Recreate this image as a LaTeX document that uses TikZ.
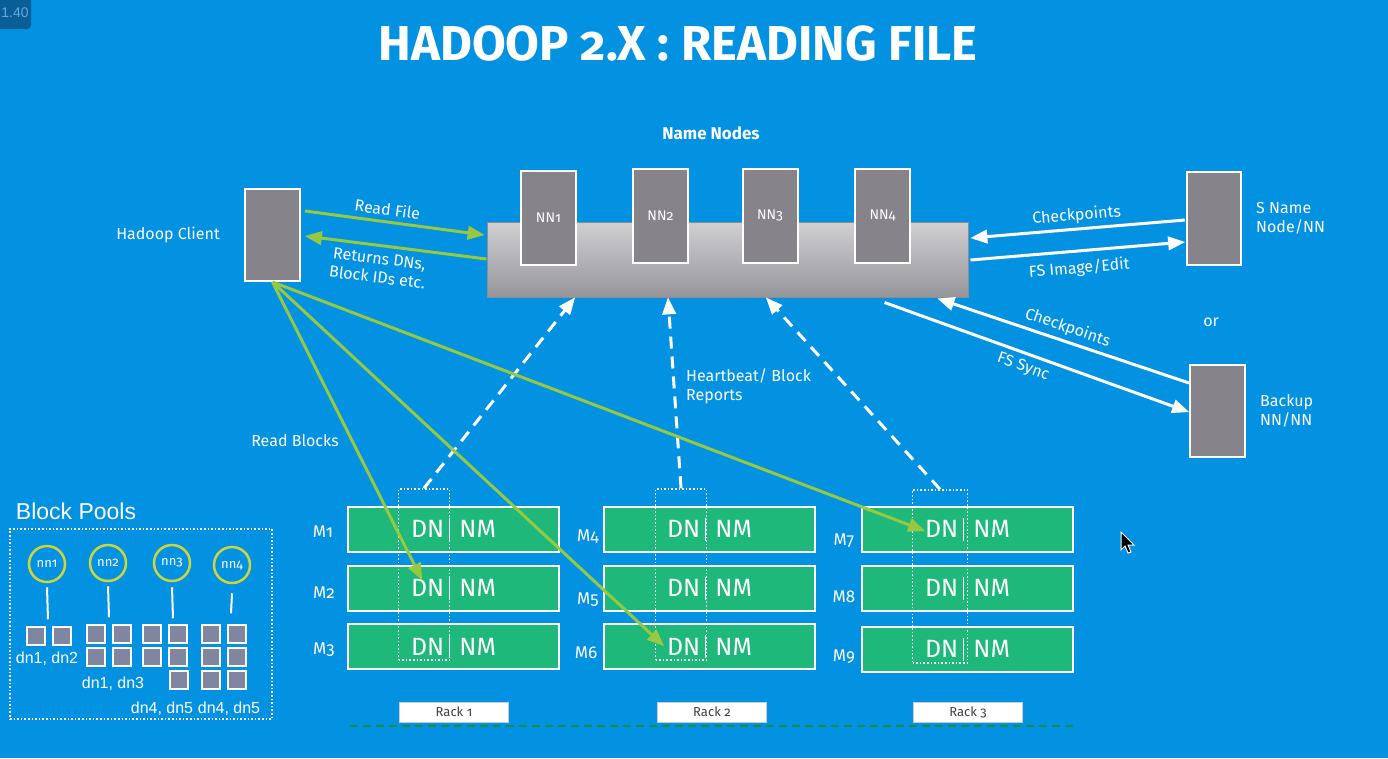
\documentclass[tikz,border=0pt]{standalone}
\usepackage{fontspec}
\setmainfont{Fira Sans}[Numbers=OldStyle]
\newfontfamily\arialfont{Liberation Sans}
\usetikzlibrary{arrows,positioning}

\definecolor{bgblue}{RGB}{3,146,226}
\definecolor{boxgray}{RGB}{134,132,138}
\definecolor{bartop}{RGB}{208,208,211}
\definecolor{barbottom}{RGB}{150,149,154}
\definecolor{barline}{RGB}{140,140,146}
\definecolor{readgreen}{RGB}{150,200,65}
\definecolor{machgreen}{RGB}{30,184,122}
\definecolor{rackline}{RGB}{22,140,72}
\definecolor{poolyellow}{RGB}{205,212,60}
\definecolor{poolgray}{RGB}{128,134,160}
\definecolor{badgeblue}{RGB}{10,94,150}
\definecolor{badgetext}{RGB}{100,170,222}

\tikzset{
    lbl/.style={text=white, inner sep=2pt, font=\fontsize{16}{19}\selectfont},
    graybox/.style={draw=white, line width=2pt, fill=boxgray, inner sep=0pt},
    nnbox/.style={graybox, minimum width=55pt, minimum height=94pt, text=white, font=\fontsize{14}{16}\selectfont},
    nnbar/.style={draw=barline, line width=1pt, top color=bartop, bottom color=barbottom, minimum width=481pt, minimum height=75pt},
    machine/.style={draw=white, line width=2pt, fill=machgreen, minimum width=211pt, minimum height=45pt, inner sep=0pt, text=white, font=\fontsize{25}{30}\selectfont},
    mlbl/.style={text=white, font=\fontsize{17}{20}\selectfont},
    dotbox/.style={draw=white, dotted, line width=1.6pt, minimum width=51pt, minimum height=171pt},
    racklbl/.style={fill=white, draw=white!80!black, minimum width=109pt, minimum height=20pt, inner sep=0pt, text=black!75, font=\fontsize{13}{15}\selectfont},
    greenarrow/.style={draw=readgreen, line width=3pt},
    whitearrow/.style={draw=white, line width=3pt},
    dasharrow/.style={draw=white, line width=3pt, dash pattern=on 12pt off 8pt},
    pool/.style={circle, draw=poolyellow, line width=2.5pt, minimum size=36pt, inner sep=0pt, text=white, font=\fontsize{13}{15}\selectfont},
    poolsq/.style={draw=white, line width=2pt, fill=poolgray, minimum size=18pt, inner sep=0pt},
    poollbl/.style={text=white, inner sep=1pt, font=\arialfont\fontsize{16}{19}\selectfont}
}

\newcommand{\dnnm}{DN\hspace{5pt}\rule[-3pt]{1.3pt}{23pt}\hspace{9pt}NM}

\begin{document}
\begin{tikzpicture}[x=1pt,y=-1pt,>=triangle 45]
            %sfondo
            \fill[bgblue] (0,0) rectangle (1388,758);
            \useasboundingbox (0,0) rectangle (1388,758);
            \fill[badgeblue, rounded corners=4pt] (-6,-6) rectangle (31,29);
            \node[text=badgetext, font=\arialfont\fontsize{14}{16}\selectfont] (badge) at (15,13) {1.40};
            %titolo
            \node[text=white, font=\bfseries\fontsize{49}{56}\selectfont] (title) at (678,44) {HADOOP 2.X : READING FILE};
            %client
            \node[graybox, minimum width=55pt, minimum height=92pt] (client) at (272.5,235) {};
            \node[lbl, left=22pt of client] (clientlbl) {Hadoop Client};
            %name nodes
            \node[nnbar] (nnbar) at (727.5,259.5) {};
            \node[nnbox] (nn1) at (548.5,218) {NN1};
            \node[nnbox] (nn2) at (660.5,215.5) {NN2};
            \node[nnbox] (nn3) at (770,215.5) {NN3};
            \node[nnbox] (nn4) at (882.5,215.5) {NN4};
            \node[lbl, font=\bfseries\fontsize{17}{20}\selectfont] (nnlbl) at (711,133) {Name Nodes};
            %secondary e backup
            \node[graybox, minimum width=54pt, minimum height=93pt] (snn) at (1214,218.5) {};
            \node[lbl, right=12pt of snn, align=left] (snnlbl) {S Name\\Node/NN};
            \node[graybox, minimum width=55pt, minimum height=92pt] (bnn) at (1217.5,411) {};
            \node[lbl, right=12pt of bnn, align=left] (bnnlbl) {Backup\\NN/NN};
            \node[lbl] (orlbl) at (1211,322) {or};
            %read file
            \draw[greenarrow,->] ([xshift=4pt,yshift=24pt]client.east) -- ([xshift=-2pt,yshift=24.5pt]nnbar.west) node[pos=0.45, above=3pt, sloped, lbl] {Read File};
            \draw[greenarrow,->] ([yshift=0.5pt]nnbar.west) -- ([xshift=4pt,yshift=-1pt]client.east) node[pos=0.58, below=4pt, sloped, lbl, align=center] {Returns DNs,\\Block IDs etc.};
            %checkpoints
            \draw[whitearrow,->] ([xshift=-1pt,yshift=-1.5pt]snn.west) -- ([xshift=2pt,yshift=21.5pt]nnbar.east) node[midway, above=2pt, sloped, lbl] {Checkpoints};
            \draw[whitearrow,->] ([xshift=2pt,yshift=-0.5pt]nnbar.east) -- ([xshift=-1pt,yshift=-23.5pt]snn.west) node[midway, below=6pt, sloped, lbl] {FS Image/Edit};
            \draw[whitearrow,->] ([yshift=28pt]bnn.west) -- ([xshift=-31pt,yshift=-1pt]nnbar.south east) node[pos=0.5, above=2pt, sloped, lbl] {Checkpoints};
            \draw[whitearrow,->] ([xshift=-84pt,yshift=-5pt]nnbar.south east) -- ([yshift=-1pt]bnn.west) node[pos=0.47, below=3pt, sloped, lbl] {FS Sync};
            %rack 1
            \node[machine] (m1) at (453.5,529) {\dnnm};
            \node[machine] (m2) at (453.5,588) {\dnnm};
            \node[machine] (m3) at (453.5,646.5) {\dnnm};
            %rack 2
            \node[machine] (m4) at (709.5,529) {\dnnm};
            \node[machine] (m5) at (709.5,588) {\dnnm};
            \node[machine] (m6) at (709.5,646.5) {\dnnm};
            %rack 3
            \node[machine] (m7) at (967.5,529) {\dnnm};
            \node[machine] (m8) at (967.5,588) {\dnnm};
            \node[machine] (m9) at (967.5,649) {\dnnm};
            %etichette
            \node[mlbl] (m1lbl) at (323,532) {M1};
            \node[mlbl] (m2lbl) at (324,593) {M2};
            \node[mlbl] (m3lbl) at (324,650) {M3};
            \node[mlbl] (m4lbl) at (588,537) {M4};
            \node[mlbl] (m5lbl) at (588,600) {M5};
            \node[mlbl] (m6lbl) at (586,653) {M6};
            \node[mlbl] (m7lbl) at (844,541) {M7};
            \node[mlbl] (m8lbl) at (844,597) {M8};
            \node[mlbl] (m9lbl) at (844,657) {M9};
            %datanode
            \node[dotbox] (hb1) at (424,574.5) {};
            \node[dotbox] (hb2) at (681,574.5) {};
            \node[dotbox, minimum width=55pt, minimum height=173pt] (hb3) at (940,576.5) {};
            %heartbeat
            \draw[dasharrow,->] (hb1.north) -- ([xshift=-152.5pt]nnbar.south);
            \draw[dasharrow,->] (hb2.north) -- ([xshift=-59.5pt]nnbar.south);
            \draw[dasharrow,->] (hb3.north) -- ([xshift=38.5pt]nnbar.south);
            \node[lbl, align=left, right] (hblbl) at (684,386) {Heartbeat/ Block\\Reports};
            %read blocks
            \draw[greenarrow,->] (client.south) -- ([xshift=-31.5pt,yshift=8pt]m2.center);
            \draw[greenarrow,->] (client.south) -- ([xshift=-45.5pt,yshift=0.5pt]m6.center);
            \draw[greenarrow,->] (client.south) -- ([xshift=-42.5pt,yshift=-2pt]m7.center);
            \node[lbl] (rblbl) at (295,441) {Read Blocks};
            %rack
            \node[racklbl] (rack1) at (454,712) {Rack 1};
            \node[racklbl] (rack2) at (712,712) {Rack 2};
            \node[racklbl] (rack3) at (968,712) {Rack 3};
            \coordinate (lineL) at (350,726);
            \coordinate (lineR) at (1073,726);
            \draw[rackline, line width=2.5pt, dash pattern=on 8pt off 5pt] (lineL) -- (lineR);
            %block pools
            \node[text=white, font=\arialfont\fontsize{23}{27}\selectfont] (bplbl) at (76,511) {Block Pools};
            \node[draw=white, dotted, line width=1.6pt, minimum width=262pt, minimum height=190pt] (bpbox) at (141,624) {};
            \node[pool] (pool1) at (47,564) {nn1};
            \node[pool] (pool2) at (108,563) {nn2};
            \node[pool] (pool3) at (172,563) {nn3};
            \node[pool] (pool4) at (232,565) {nn4};
            \draw[white, line width=2pt] ([yshift=-4pt]pool1.south) -- ++(1,32);
            \draw[white, line width=2pt] ([yshift=-4pt]pool2.south) -- ++(1,31);
            \draw[white, line width=2pt] ([yshift=-5pt]pool3.south) -- ++(1,31);
            \draw[white, line width=2pt] ([yshift=-9pt]pool4.south) -- ++(-1,20);
            \node[poolsq] (sq1a) at (36,636) {};
            \node[poolsq] (sq1b) at (61.5,636) {};
            \node[poolsq] (sq2a) at (96,633.5) {};
            \node[poolsq] (sq2b) at (122,633.5) {};
            \node[poolsq] (sq2c) at (96,656.5) {};
            \node[poolsq] (sq2d) at (122,656.5) {};
            \node[poolsq] (sq3a) at (151.5,633.5) {};
            \node[poolsq] (sq3b) at (178,633.5) {};
            \node[poolsq] (sq3c) at (151.5,656.5) {};
            \node[poolsq] (sq3d) at (178,656.5) {};
            \node[poolsq] (sq3e) at (178.5,679.5) {};
            \node[poolsq] (sq4a) at (210.5,633.5) {};
            \node[poolsq] (sq4b) at (237,633.5) {};
            \node[poolsq] (sq4c) at (210.5,656.5) {};
            \node[poolsq] (sq4d) at (237,656.5) {};
            \node[poolsq] (sq4e) at (210.5,680) {};
            \node[poolsq] (sq4f) at (237,680) {};
            \node[poollbl] (dn12) at (47,659) {dn1, dn2};
            \node[poollbl] (dn13) at (113,684) {dn1, dn3};
            \node[poollbl] (dn45a) at (162,709) {dn4, dn5};
            \node[poollbl] (dn45b) at (229,709) {dn4, dn5};
            %cursore
            \filldraw[fill=black, draw=white, line width=1pt] (1121,532) -- (1121,550) -- (1125,546) -- (1128,553) -- (1131,552) -- (1128,545) -- (1134,545) -- cycle;
        \end{tikzpicture}
\end{document}
